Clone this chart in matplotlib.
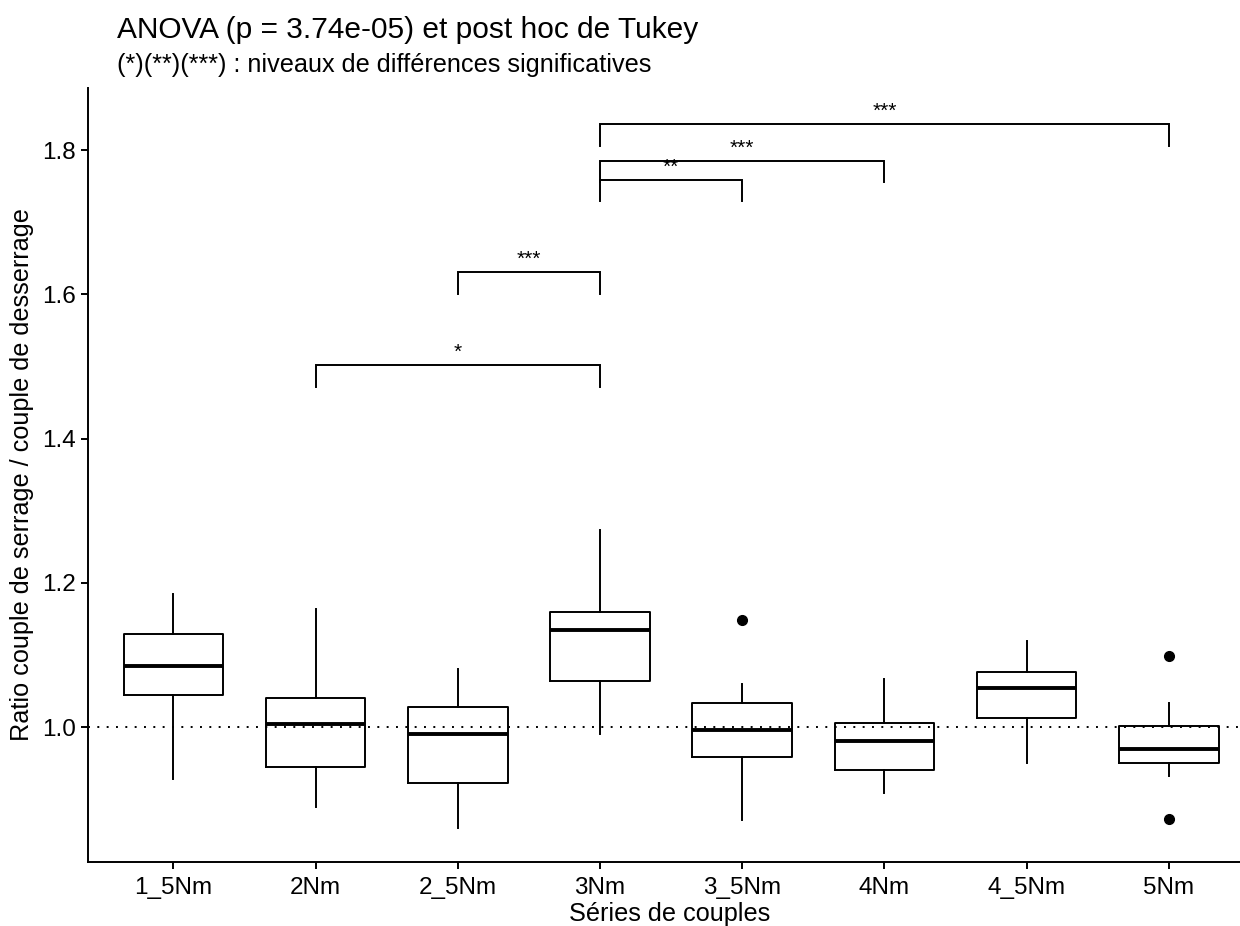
import matplotlib.pyplot as plt

plt.rcParams['font.family'] = ['Liberation Sans', 'DejaVu Sans']

# categories and box statistics
series = ["1_5Nm", "2Nm", "2_5Nm", "3Nm", "3_5Nm", "4Nm", "4_5Nm", "5Nm"]
whisker_low = [0.928, 0.889, 0.860, 0.991, 0.871, 0.909, 0.950, 0.932]
q1 = [1.044, 0.945, 0.923, 1.064, 0.959, 0.940, 1.012, 0.950]
median = [1.085, 1.005, 0.991, 1.135, 0.996, 0.981, 1.054, 0.969]
q3 = [1.129, 1.040, 1.028, 1.159, 1.034, 1.006, 1.077, 1.001]
whisker_high = [1.184, 1.164, 1.081, 1.273, 1.060, 1.067, 1.119, 1.033]
outliers = [[], [], [], [], [1.148], [], [], [1.098, 0.873]]

# Tukey post hoc comparisons: (group a, group b, bracket height, label)
comp_a = ["2Nm", "2_5Nm", "3Nm", "3Nm", "3Nm"]
comp_b = ["3Nm", "3Nm", "3_5Nm", "4Nm", "5Nm"]
comp_y = [1.502, 1.631, 1.759, 1.785, 1.836]
comp_label = ["*", "***", "**", "***", "***"]
tip = 0.03

fig = plt.figure(figsize=(12.4, 9.26), dpi=100)
ax = fig.add_axes([88 / 1240, 64 / 926, 1 - 88 / 1240, (862 - 88) / 926])

stats = []
for i, name in enumerate(series):
    stats.append(dict(label=name, whislo=whisker_low[i], q1=q1[i], med=median[i],
                      q3=q3[i], whishi=whisker_high[i], fliers=outliers[i]))

lw = 1.4
ax.bxp(stats, positions=range(len(series)), widths=0.7, showcaps=False,
       boxprops=dict(color="black", linewidth=lw),
       whiskerprops=dict(color="black", linewidth=lw),
       medianprops=dict(color="black", linewidth=2.8, solid_capstyle="butt"),
       flierprops=dict(marker="o", markerfacecolor="black", markeredgecolor="black",
                       markersize=7))

ax.axhline(1.0, color="black", linewidth=1.4, linestyle=(0, (1, 3.8)), zorder=0)

pos = {name: i for i, name in enumerate(series)}
for a, b, y, lab in zip(comp_a, comp_b, comp_y, comp_label):
    xa, xb = pos[a], pos[b]
    ax.plot([xa, xa, xb, xb], [y - tip, y, y, y - tip], color="black",
            linewidth=1.4, solid_joinstyle="miter")
    ax.text((xa + xb) / 2, y + 0.004, lab, ha="center", va="bottom", fontsize=15)

ax.set_xlim(-0.6, 7.5)
ax.set_ylim(0.813, 1.886)
ax.set_xticks(range(len(series)))
ax.set_xticklabels(series)
ax.set_yticks([1.0, 1.2, 1.4, 1.6, 1.8])
ax.set_yticklabels(["1.0", "1.2", "1.4", "1.6", "1.8"])
ax.tick_params(labelsize=17.5, length=5, width=1.4, colors="black")
ax.tick_params(axis="x", pad=6)
ax.tick_params(axis="y", pad=4)
for side in ["top", "right"]:
    ax.spines[side].set_visible(False)
for side in ["left", "bottom"]:
    ax.spines[side].set_linewidth(1.4)

fig.text(117 / 1240, 1 - 38 / 926, "ANOVA (p = 3.74e-05) et post hoc de Tukey",
         fontsize=21.5, ha="left", va="baseline")
fig.text(117 / 1240, 1 - 72 / 926, "(*)(**)(***) : niveaux de différences significatives",
         fontsize=18.2, ha="left", va="baseline")
fig.text(670 / 1240, 1 - 914 / 926, "Séries de couples", fontsize=18.2, ha="center",
         va="center")
fig.text(22 / 1240, 1 - 475 / 926, "Ratio couple de serrage / couple de desserrage",
         fontsize=18.2, rotation=90, ha="center", va="center")

fig.savefig("out.png", dpi=100)
